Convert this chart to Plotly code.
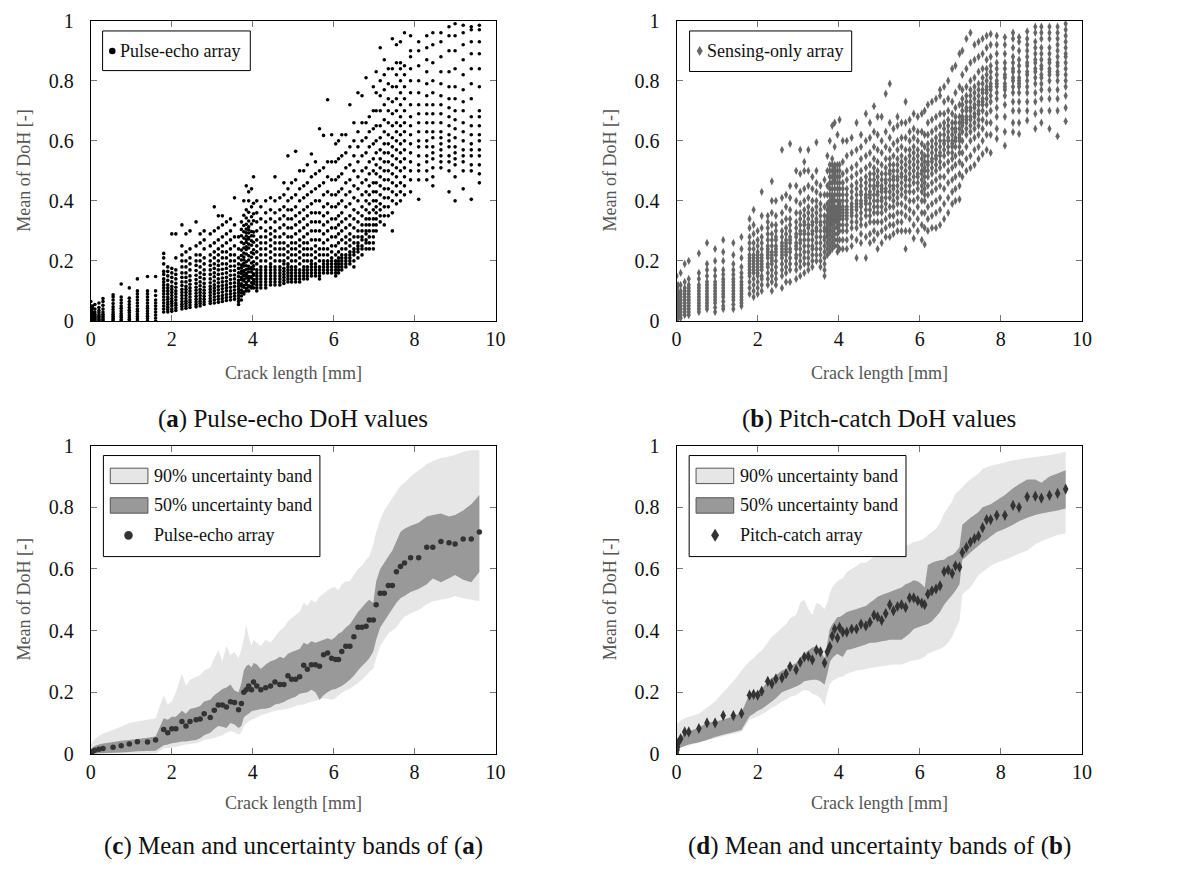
import plotly.graph_objects as go
from plotly.subplots import make_subplots

# crack lengths [mm] shared by all four panels
crack_mm = [
    0.0, 0.01, 0.02, 0.04, 0.1, 0.2, 0.3, 0.55, 0.75, 0.95,
    1.15, 1.4, 1.6, 1.8, 1.9, 2.0, 2.1, 2.25, 2.35, 2.45,
    2.6, 2.7, 2.8, 2.95, 3.05, 3.15, 3.25, 3.35, 3.45, 3.55,
    3.65, 3.72, 3.78, 3.84, 3.9, 3.97, 4.02, 4.1, 4.2, 4.32,
    4.44, 4.55, 4.67, 4.77, 4.87, 4.96, 5.06, 5.16, 5.26, 5.35,
    5.45, 5.55, 5.65, 5.75, 5.85, 5.95, 6.05, 6.12, 6.2, 6.3,
    6.4, 6.5, 6.6, 6.7, 6.8, 6.88, 6.98, 7.05, 7.15, 7.25,
    7.35, 7.45, 7.55, 7.65, 7.75, 7.9, 8.1, 8.3, 8.45, 8.65,
    8.85, 9.0, 9.2, 9.4, 9.6]

# (a) pulse-echo DoH values, one list per crack length
pe_doh = [
    [0, 0.005, 0.01, 0.015, 0.02, 0.03, 0.04, 0.05, 0.065],
    [0, 0.004, 0.008, 0.012, 0.018, 0.025, 0.035, 0.045],
    [0, 0.003, 0.007, 0.012, 0.02, 0.03, 0.04],
    [0, 0.004, 0.009, 0.015, 0.022, 0.03, 0.042, 0.05],
    [0, 0.004, 0.008, 0.012, 0.017, 0.022, 0.03, 0.04, 0.055],
    [0, 0.005, 0.01, 0.015, 0.02, 0.027, 0.035, 0.045, 0.06],
    [0, 0.005, 0.01, 0.016, 0.022, 0.03, 0.04, 0.052, 0.065, 0.075],
    [0, 0.005, 0.01, 0.016, 0.022, 0.03, 0.038, 0.047, 0.058, 0.07, 0.08, 0.087],
    [0, 0.005, 0.012, 0.018, 0.025, 0.033, 0.042, 0.05, 0.06, 0.07, 0.08, 0.123],
    [0, 0.006, 0.013, 0.02, 0.028, 0.036, 0.045, 0.055, 0.065, 0.076, 0.11],
    [0, 0.007, 0.015, 0.023, 0.032, 0.04, 0.05, 0.06, 0.07, 0.08, 0.09, 0.1, 0.14],
    [0, 0.008, 0.016, 0.025, 0.033, 0.042, 0.05, 0.06, 0.07, 0.08, 0.09, 0.1, 0.148],
    [0, 0.01, 0.02, 0.03, 0.04, 0.05, 0.06, 0.07, 0.085, 0.1, 0.148],
    [0.03, 0.04, 0.05, 0.06, 0.07, 0.08, 0.09, 0.1, 0.11, 0.12, 0.13, 0.14, 0.155, 0.165, 0.19, 0.21, 0.225],
    [0.03, 0.038, 0.046, 0.055, 0.063, 0.072, 0.08, 0.09, 0.1, 0.11, 0.12, 0.135, 0.15, 0.165, 0.18],
    [0.032, 0.04, 0.05, 0.058, 0.066, 0.075, 0.085, 0.095, 0.105, 0.115, 0.13, 0.145, 0.16, 0.175, 0.29],
    [0.035, 0.043, 0.052, 0.06, 0.07, 0.08, 0.09, 0.1, 0.112, 0.125, 0.14, 0.155, 0.17, 0.21, 0.29],
    [0.04, 0.048, 0.056, 0.065, 0.075, 0.085, 0.095, 0.105, 0.118, 0.13, 0.145, 0.16, 0.18, 0.2, 0.22, 0.25, 0.32],
    [0.042, 0.05, 0.058, 0.066, 0.075, 0.085, 0.095, 0.105, 0.115, 0.13, 0.145, 0.16, 0.18, 0.2, 0.23, 0.29],
    [0.045, 0.053, 0.062, 0.07, 0.08, 0.09, 0.1, 0.11, 0.122, 0.135, 0.15, 0.17, 0.19, 0.21, 0.24, 0.3],
    [0.047, 0.055, 0.063, 0.072, 0.082, 0.092, 0.102, 0.112, 0.125, 0.138, 0.152, 0.168, 0.185, 0.2, 0.22, 0.25, 0.33],
    [0.05, 0.058, 0.066, 0.075, 0.085, 0.095, 0.105, 0.117, 0.13, 0.145, 0.16, 0.18, 0.2, 0.22, 0.26, 0.29],
    [0.055, 0.063, 0.072, 0.082, 0.092, 0.102, 0.113, 0.125, 0.14, 0.155, 0.17, 0.19, 0.21, 0.24, 0.27, 0.3],
    [0.058, 0.066, 0.075, 0.085, 0.095, 0.105, 0.115, 0.127, 0.14, 0.155, 0.17, 0.185, 0.2, 0.22, 0.25, 0.29],
    [0.06, 0.07, 0.08, 0.09, 0.1, 0.11, 0.12, 0.133, 0.147, 0.16, 0.175, 0.19, 0.21, 0.23, 0.26, 0.3, 0.38],
    [0.062, 0.072, 0.082, 0.093, 0.104, 0.115, 0.127, 0.14, 0.155, 0.17, 0.185, 0.2, 0.22, 0.24, 0.27, 0.31, 0.35],
    [0.065, 0.075, 0.085, 0.096, 0.107, 0.118, 0.13, 0.143, 0.157, 0.172, 0.19, 0.21, 0.23, 0.25, 0.28, 0.32, 0.35],
    [0.068, 0.078, 0.088, 0.1, 0.11, 0.12, 0.132, 0.145, 0.16, 0.175, 0.19, 0.21, 0.23, 0.26, 0.29, 0.33],
    [0.07, 0.08, 0.09, 0.1, 0.112, 0.125, 0.138, 0.152, 0.167, 0.182, 0.2, 0.22, 0.24, 0.27, 0.3, 0.34],
    [0.072, 0.082, 0.092, 0.103, 0.115, 0.127, 0.14, 0.153, 0.168, 0.183, 0.2, 0.22, 0.25, 0.28, 0.32, 0.41],
    [0.055, 0.065, 0.075, 0.085, 0.095, 0.105, 0.115, 0.125, 0.135, 0.148, 0.16, 0.175, 0.19, 0.21, 0.24, 0.28],
    [0.07, 0.083, 0.094, 0.103, 0.116, 0.124, 0.137, 0.145, 0.158, 0.166, 0.177, 0.186, 0.203, 0.218, 0.236, 0.262, 0.284, 0.305, 0.33],
    [0.09, 0.097, 0.112, 0.118, 0.133, 0.139, 0.151, 0.162, 0.168, 0.183, 0.192, 0.204, 0.213, 0.226, 0.243, 0.257, 0.276, 0.297, 0.318, 0.352, 0.4],
    [0.1, 0.108, 0.121, 0.128, 0.143, 0.152, 0.158, 0.171, 0.184, 0.197, 0.223, 0.238, 0.247, 0.262, 0.271, 0.283, 0.294, 0.306, 0.322, 0.343, 0.37, 0.45],
    [0.1, 0.113, 0.117, 0.134, 0.141, 0.148, 0.163, 0.174, 0.182, 0.203, 0.217, 0.243, 0.256, 0.273, 0.278, 0.293, 0.304, 0.314, 0.333, 0.362, 0.4, 0.43],
    [0.11, 0.116, 0.127, 0.143, 0.148, 0.163, 0.172, 0.178, 0.193, 0.212, 0.228, 0.252, 0.267, 0.284, 0.298, 0.323, 0.347, 0.38, 0.44],
    [0.11, 0.123, 0.131, 0.138, 0.152, 0.157, 0.173, 0.184, 0.197, 0.224, 0.237, 0.262, 0.283, 0.296, 0.334, 0.357, 0.392, 0.48],
    [0.1, 0.11, 0.12, 0.13, 0.14, 0.15, 0.16, 0.17, 0.19, 0.21, 0.23, 0.25, 0.27, 0.3, 0.33, 0.36, 0.4],
    [0.11, 0.12, 0.13, 0.14, 0.15, 0.16, 0.17, 0.18, 0.2, 0.22, 0.24, 0.26, 0.28, 0.31, 0.34, 0.38],
    [0.11, 0.12, 0.13, 0.14, 0.15, 0.16, 0.17, 0.18, 0.2, 0.22, 0.24, 0.26, 0.28, 0.3, 0.33, 0.36, 0.4],
    [0.12, 0.13, 0.14, 0.15, 0.16, 0.17, 0.18, 0.19, 0.21, 0.23, 0.25, 0.27, 0.29, 0.31, 0.34, 0.37, 0.41],
    [0.12, 0.13, 0.14, 0.15, 0.16, 0.17, 0.18, 0.2, 0.22, 0.24, 0.26, 0.28, 0.3, 0.33, 0.36, 0.4, 0.48],
    [0.12, 0.13, 0.14, 0.15, 0.16, 0.17, 0.18, 0.2, 0.22, 0.24, 0.26, 0.28, 0.31, 0.34, 0.37, 0.41],
    [0.125, 0.135, 0.145, 0.155, 0.165, 0.175, 0.19, 0.2, 0.22, 0.24, 0.26, 0.29, 0.32, 0.35, 0.38, 0.42, 0.46],
    [0.13, 0.14, 0.15, 0.16, 0.17, 0.18, 0.19, 0.21, 0.23, 0.25, 0.28, 0.31, 0.34, 0.37, 0.4, 0.44, 0.55],
    [0.13, 0.14, 0.15, 0.16, 0.17, 0.18, 0.2, 0.22, 0.24, 0.26, 0.28, 0.31, 0.34, 0.37, 0.41, 0.46],
    [0.13, 0.14, 0.15, 0.16, 0.17, 0.18, 0.2, 0.22, 0.24, 0.26, 0.29, 0.32, 0.35, 0.38, 0.42, 0.47, 0.565],
    [0.13, 0.14, 0.15, 0.16, 0.17, 0.19, 0.21, 0.23, 0.25, 0.27, 0.3, 0.33, 0.36, 0.4, 0.44, 0.5],
    [0.14, 0.15, 0.16, 0.17, 0.18, 0.2, 0.22, 0.24, 0.26, 0.28, 0.31, 0.34, 0.37, 0.41, 0.45, 0.5],
    [0.14, 0.15, 0.16, 0.17, 0.18, 0.2, 0.22, 0.24, 0.26, 0.29, 0.32, 0.35, 0.38, 0.42, 0.46, 0.52],
    [0.15, 0.16, 0.17, 0.18, 0.19, 0.2, 0.22, 0.24, 0.27, 0.3, 0.33, 0.36, 0.39, 0.43, 0.48, 0.556],
    [0.15, 0.16, 0.17, 0.18, 0.19, 0.21, 0.23, 0.25, 0.27, 0.3, 0.33, 0.36, 0.4, 0.44, 0.49, 0.53],
    [0.14, 0.15, 0.16, 0.17, 0.18, 0.2, 0.22, 0.24, 0.27, 0.3, 0.33, 0.36, 0.4, 0.45, 0.5, 0.64],
    [0.16, 0.17, 0.18, 0.19, 0.2, 0.22, 0.24, 0.26, 0.29, 0.32, 0.35, 0.38, 0.42, 0.46, 0.51, 0.618],
    [0.16, 0.17, 0.18, 0.19, 0.2, 0.22, 0.24, 0.27, 0.3, 0.33, 0.36, 0.39, 0.43, 0.48, 0.53, 0.737],
    [0.16, 0.17, 0.18, 0.19, 0.2, 0.21, 0.23, 0.25, 0.28, 0.31, 0.34, 0.38, 0.42, 0.47, 0.53, 0.62],
    [0.15, 0.16, 0.17, 0.18, 0.19, 0.2, 0.22, 0.25, 0.28, 0.31, 0.34, 0.38, 0.42, 0.47, 0.53, 0.59],
    [0.16, 0.17, 0.18, 0.19, 0.2, 0.21, 0.23, 0.26, 0.29, 0.32, 0.35, 0.39, 0.43, 0.48, 0.54, 0.6],
    [0.17, 0.18, 0.19, 0.2, 0.21, 0.22, 0.24, 0.27, 0.3, 0.33, 0.36, 0.4, 0.44, 0.49, 0.55, 0.62],
    [0.18, 0.19, 0.2, 0.21, 0.22, 0.24, 0.26, 0.28, 0.31, 0.34, 0.38, 0.42, 0.46, 0.51, 0.56, 0.62],
    [0.19, 0.2, 0.21, 0.22, 0.23, 0.25, 0.27, 0.29, 0.32, 0.35, 0.39, 0.43, 0.47, 0.52, 0.58, 0.72],
    [0.18, 0.2, 0.22, 0.23, 0.24, 0.26, 0.28, 0.31, 0.34, 0.37, 0.41, 0.45, 0.5, 0.55, 0.6, 0.66],
    [0.21, 0.23, 0.24, 0.25, 0.26, 0.28, 0.3, 0.33, 0.36, 0.4, 0.44, 0.48, 0.53, 0.58, 0.63, 0.76],
    [0.22, 0.24, 0.25, 0.27, 0.28, 0.3, 0.32, 0.35, 0.38, 0.42, 0.46, 0.5, 0.55, 0.6, 0.66, 0.75],
    [0.24, 0.26, 0.27, 0.29, 0.3, 0.32, 0.34, 0.37, 0.4, 0.43, 0.47, 0.51, 0.56, 0.61, 0.66, 0.81],
    [0.24, 0.26, 0.28, 0.3, 0.32, 0.34, 0.36, 0.39, 0.42, 0.45, 0.49, 0.53, 0.58, 0.63, 0.68],
    [0.24, 0.26, 0.28, 0.3, 0.32, 0.34, 0.37, 0.4, 0.43, 0.46, 0.5, 0.54, 0.59, 0.64, 0.7, 0.78],
    [0.3, 0.32, 0.34, 0.36, 0.38, 0.4, 0.43, 0.46, 0.49, 0.52, 0.56, 0.6, 0.65, 0.7, 0.76, 0.83],
    [0.33, 0.35, 0.37, 0.39, 0.42, 0.45, 0.48, 0.51, 0.54, 0.57, 0.61, 0.65, 0.7, 0.75, 0.8, 0.91],
    [0.32, 0.35, 0.38, 0.41, 0.44, 0.47, 0.5, 0.53, 0.56, 0.59, 0.63, 0.67, 0.72, 0.77, 0.82, 0.87],
    [0.35, 0.38, 0.41, 0.44, 0.47, 0.5, 0.53, 0.56, 0.59, 0.62, 0.66, 0.7, 0.74, 0.79, 0.84],
    [0.3, 0.36, 0.4, 0.43, 0.46, 0.49, 0.52, 0.55, 0.58, 0.61, 0.65, 0.69, 0.73, 0.78, 0.84, 0.94],
    [0.39, 0.42, 0.45, 0.48, 0.51, 0.54, 0.57, 0.6, 0.63, 0.66, 0.7, 0.74, 0.78, 0.82, 0.86, 0.92],
    [0.4, 0.43, 0.46, 0.5, 0.53, 0.56, 0.59, 0.62, 0.65, 0.68, 0.72, 0.76, 0.8, 0.84, 0.86, 0.93],
    [0.42, 0.45, 0.48, 0.51, 0.54, 0.57, 0.6, 0.63, 0.66, 0.7, 0.74, 0.78, 0.82, 0.85, 0.96],
    [0.43, 0.47, 0.5, 0.53, 0.56, 0.59, 0.62, 0.65, 0.68, 0.72, 0.76, 0.8, 0.84, 0.88, 0.9, 0.95],
    [0.405, 0.47, 0.5, 0.52, 0.55, 0.58, 0.6, 0.63, 0.66, 0.69, 0.72, 0.76, 0.8, 0.85, 0.9, 0.93],
    [0.47, 0.5, 0.53, 0.55, 0.58, 0.6, 0.63, 0.66, 0.69, 0.72, 0.75, 0.79, 0.83, 0.87, 0.91, 0.95],
    [0.45, 0.48, 0.51, 0.54, 0.56, 0.58, 0.61, 0.63, 0.66, 0.69, 0.72, 0.76, 0.8, 0.86, 0.92, 0.96],
    [0.51, 0.53, 0.55, 0.57, 0.59, 0.61, 0.63, 0.66, 0.69, 0.72, 0.75, 0.79, 0.83, 0.88, 0.93, 0.96],
    [0.43, 0.5, 0.53, 0.55, 0.58, 0.6, 0.62, 0.65, 0.68, 0.71, 0.74, 0.78, 0.83, 0.9, 0.95, 0.98],
    [0.4, 0.48, 0.52, 0.54, 0.56, 0.58, 0.61, 0.64, 0.67, 0.7, 0.74, 0.78, 0.84, 0.9, 0.95, 0.99],
    [0.44, 0.5, 0.53, 0.55, 0.57, 0.6, 0.63, 0.66, 0.7, 0.73, 0.77, 0.82, 0.87, 0.92, 0.96, 0.985],
    [0.405, 0.5, 0.52, 0.55, 0.57, 0.59, 0.62, 0.65, 0.68, 0.74, 0.79, 0.84, 0.89, 0.93, 0.97, 0.98],
    [0.46, 0.49, 0.52, 0.55, 0.57, 0.6, 0.62, 0.65, 0.68, 0.7, 0.78, 0.84, 0.89, 0.93, 0.97, 0.985],
]

# (b) pitch-catch (sensing-only) DoH values, one list per crack length
pc_doh = [
    [0, 0.005, 0.01, 0.02, 0.03, 0.04, 0.05, 0.06, 0.07, 0.08, 0.09, 0.1, 0.12, 0.15],
    [0.005, 0.01, 0.015, 0.02, 0.03, 0.04, 0.05, 0.07, 0.1],
    [0.01, 0.015, 0.02, 0.03, 0.04, 0.05, 0.06, 0.08, 0.11],
    [0.01, 0.02, 0.03, 0.04, 0.05, 0.06, 0.07, 0.09, 0.12],
    [0.01, 0.02, 0.03, 0.04, 0.05, 0.06, 0.07, 0.08, 0.09, 0.1, 0.12, 0.16],
    [0.02, 0.03, 0.04, 0.05, 0.06, 0.07, 0.08, 0.09, 0.1, 0.11, 0.13, 0.19],
    [0.02, 0.03, 0.04, 0.05, 0.06, 0.07, 0.08, 0.09, 0.1, 0.11, 0.12, 0.14, 0.2],
    [0.03, 0.04, 0.05, 0.06, 0.07, 0.08, 0.09, 0.1, 0.11, 0.12, 0.14, 0.16, 0.225],
    [0.04, 0.05, 0.06, 0.07, 0.08, 0.09, 0.1, 0.11, 0.12, 0.13, 0.15, 0.17, 0.19, 0.26],
    [0.03, 0.045, 0.06, 0.07, 0.08, 0.09, 0.1, 0.11, 0.12, 0.13, 0.15, 0.17, 0.2, 0.24],
    [0.04, 0.05, 0.065, 0.08, 0.09, 0.1, 0.11, 0.12, 0.13, 0.14, 0.155, 0.17, 0.2, 0.23, 0.27],
    [0.04, 0.055, 0.07, 0.08, 0.09, 0.1, 0.11, 0.12, 0.13, 0.14, 0.155, 0.17, 0.19, 0.22, 0.26],
    [0.05, 0.06, 0.07, 0.08, 0.09, 0.1, 0.11, 0.12, 0.13, 0.145, 0.16, 0.18, 0.21, 0.24, 0.28],
    [0.09, 0.11, 0.13, 0.15, 0.16, 0.17, 0.18, 0.19, 0.2, 0.21, 0.22, 0.24, 0.26, 0.28, 0.31, 0.34],
    [0.08, 0.1, 0.12, 0.14, 0.16, 0.17, 0.18, 0.19, 0.2, 0.21, 0.22, 0.24, 0.26, 0.29, 0.32, 0.37],
    [0.09, 0.11, 0.13, 0.15, 0.16, 0.17, 0.18, 0.19, 0.2, 0.21, 0.22, 0.23, 0.25, 0.27, 0.3],
    [0.1, 0.12, 0.14, 0.15, 0.17, 0.18, 0.19, 0.2, 0.21, 0.22, 0.24, 0.26, 0.28, 0.31, 0.35, 0.43],
    [0.12, 0.14, 0.16, 0.18, 0.19, 0.21, 0.22, 0.23, 0.24, 0.25, 0.27, 0.29, 0.31, 0.33, 0.35],
    [0.1, 0.13, 0.15, 0.17, 0.19, 0.2, 0.21, 0.22, 0.23, 0.25, 0.27, 0.29, 0.32, 0.36, 0.4, 0.465],
    [0.12, 0.14, 0.16, 0.18, 0.2, 0.22, 0.23, 0.24, 0.25, 0.27, 0.28, 0.3, 0.32, 0.35, 0.4],
    [0.11, 0.15, 0.17, 0.19, 0.21, 0.22, 0.23, 0.24, 0.25, 0.26, 0.28, 0.3, 0.33, 0.36, 0.41, 0.57],
    [0.13, 0.16, 0.18, 0.2, 0.22, 0.23, 0.24, 0.25, 0.26, 0.27, 0.29, 0.31, 0.34, 0.38, 0.42],
    [0.13, 0.17, 0.19, 0.21, 0.23, 0.24, 0.26, 0.27, 0.28, 0.3, 0.32, 0.34, 0.37, 0.41, 0.45, 0.59],
    [0.14, 0.17, 0.19, 0.21, 0.22, 0.24, 0.25, 0.26, 0.28, 0.29, 0.31, 0.33, 0.36, 0.4, 0.45, 0.5],
    [0.15, 0.18, 0.2, 0.22, 0.24, 0.26, 0.27, 0.29, 0.3, 0.32, 0.34, 0.36, 0.39, 0.43, 0.49, 0.57],
    [0.16, 0.19, 0.21, 0.23, 0.25, 0.27, 0.29, 0.3, 0.32, 0.33, 0.35, 0.37, 0.4, 0.44, 0.5, 0.53],
    [0.17, 0.19, 0.21, 0.23, 0.25, 0.27, 0.29, 0.31, 0.32, 0.34, 0.36, 0.38, 0.41, 0.45, 0.5, 0.57],
    [0.18, 0.2, 0.22, 0.24, 0.25, 0.27, 0.29, 0.3, 0.32, 0.33, 0.35, 0.37, 0.4, 0.44, 0.48],
    [0.2, 0.22, 0.24, 0.26, 0.28, 0.3, 0.31, 0.33, 0.34, 0.36, 0.38, 0.4, 0.43, 0.46, 0.5, 0.595],
    [0.18, 0.2, 0.22, 0.24, 0.26, 0.28, 0.3, 0.32, 0.33, 0.35, 0.37, 0.39, 0.42, 0.45],
    [0.15, 0.17, 0.19, 0.21, 0.23, 0.25, 0.27, 0.28, 0.3, 0.31, 0.33, 0.35, 0.38, 0.42, 0.47],
    [0.22, 0.24, 0.26, 0.28, 0.29, 0.3, 0.31, 0.32, 0.33, 0.34, 0.35, 0.37, 0.39, 0.42, 0.45, 0.5, 0.55],
    [0.23, 0.25, 0.27, 0.29, 0.3, 0.31, 0.32, 0.33, 0.34, 0.35, 0.36, 0.37, 0.38, 0.4, 0.42, 0.44, 0.46, 0.48, 0.5, 0.52, 0.6],
    [0.24, 0.26, 0.28, 0.3, 0.32, 0.33, 0.34, 0.35, 0.36, 0.37, 0.38, 0.39, 0.4, 0.41, 0.42, 0.44, 0.46, 0.48, 0.5, 0.52, 0.54, 0.65],
    [0.25, 0.27, 0.29, 0.31, 0.33, 0.34, 0.35, 0.36, 0.37, 0.38, 0.4, 0.42, 0.44, 0.46, 0.47, 0.48, 0.49, 0.5, 0.51, 0.52, 0.58, 0.66],
    [0.23, 0.25, 0.27, 0.29, 0.31, 0.32, 0.33, 0.34, 0.35, 0.36, 0.37, 0.38, 0.4, 0.42, 0.44, 0.46, 0.48, 0.5, 0.52, 0.62],
    [0.24, 0.27, 0.3, 0.32, 0.34, 0.35, 0.36, 0.37, 0.38, 0.39, 0.4, 0.42, 0.44, 0.46, 0.48, 0.5, 0.52, 0.67],
    [0.24, 0.27, 0.3, 0.32, 0.34, 0.35, 0.36, 0.37, 0.38, 0.4, 0.42, 0.44, 0.46, 0.49, 0.53, 0.6],
    [0.24, 0.27, 0.3, 0.32, 0.34, 0.35, 0.36, 0.37, 0.38, 0.4, 0.42, 0.44, 0.47, 0.5, 0.55, 0.6],
    [0.25, 0.28, 0.31, 0.33, 0.35, 0.36, 0.37, 0.38, 0.39, 0.41, 0.43, 0.45, 0.48, 0.51, 0.56, 0.61],
    [0.21, 0.27, 0.31, 0.33, 0.35, 0.37, 0.38, 0.39, 0.4, 0.42, 0.44, 0.46, 0.49, 0.52, 0.57, 0.66],
    [0.26, 0.29, 0.32, 0.34, 0.36, 0.38, 0.39, 0.4, 0.42, 0.43, 0.45, 0.47, 0.5, 0.54, 0.58, 0.62],
    [0.21, 0.28, 0.32, 0.35, 0.37, 0.39, 0.4, 0.41, 0.42, 0.44, 0.46, 0.48, 0.51, 0.55, 0.6, 0.69],
    [0.26, 0.29, 0.33, 0.35, 0.37, 0.39, 0.41, 0.42, 0.43, 0.45, 0.47, 0.49, 0.52, 0.56, 0.61, 0.66],
    [0.27, 0.3, 0.33, 0.36, 0.38, 0.4, 0.42, 0.44, 0.45, 0.47, 0.49, 0.51, 0.54, 0.58, 0.63, 0.715],
    [0.24, 0.29, 0.33, 0.36, 0.38, 0.4, 0.42, 0.43, 0.45, 0.46, 0.48, 0.5, 0.53, 0.57, 0.62, 0.68],
    [0.26, 0.3, 0.33, 0.36, 0.38, 0.4, 0.41, 0.43, 0.44, 0.45, 0.47, 0.49, 0.52, 0.56, 0.6, 0.68],
    [0.28, 0.31, 0.34, 0.37, 0.39, 0.41, 0.43, 0.44, 0.46, 0.47, 0.49, 0.51, 0.54, 0.58, 0.63, 0.757],
    [0.28, 0.32, 0.35, 0.38, 0.41, 0.43, 0.45, 0.47, 0.49, 0.5, 0.52, 0.54, 0.57, 0.61, 0.66, 0.79],
    [0.29, 0.32, 0.35, 0.38, 0.4, 0.42, 0.44, 0.45, 0.47, 0.48, 0.5, 0.52, 0.55, 0.59, 0.64],
    [0.3, 0.33, 0.36, 0.39, 0.41, 0.43, 0.45, 0.47, 0.48, 0.5, 0.52, 0.54, 0.57, 0.6, 0.65, 0.68],
    [0.3, 0.33, 0.36, 0.39, 0.42, 0.44, 0.46, 0.48, 0.49, 0.51, 0.53, 0.55, 0.58, 0.61, 0.66],
    [0.24, 0.3, 0.35, 0.38, 0.41, 0.43, 0.45, 0.47, 0.48, 0.5, 0.52, 0.54, 0.57, 0.61, 0.66, 0.73],
    [0.3, 0.34, 0.37, 0.4, 0.43, 0.45, 0.47, 0.49, 0.51, 0.53, 0.55, 0.57, 0.6, 0.63, 0.67],
    [0.275, 0.32, 0.36, 0.4, 0.43, 0.46, 0.48, 0.5, 0.52, 0.54, 0.56, 0.58, 0.61, 0.64, 0.69],
    [0.3, 0.34, 0.38, 0.41, 0.44, 0.46, 0.48, 0.49, 0.51, 0.53, 0.55, 0.57, 0.6, 0.63, 0.68],
    [0.27, 0.32, 0.36, 0.4, 0.43, 0.45, 0.47, 0.49, 0.5, 0.52, 0.54, 0.56, 0.59, 0.63, 0.69],
    [0.255, 0.31, 0.36, 0.4, 0.42, 0.44, 0.46, 0.48, 0.5, 0.51, 0.53, 0.55, 0.58, 0.62, 0.7],
    [0.3, 0.34, 0.38, 0.42, 0.45, 0.48, 0.5, 0.52, 0.53, 0.55, 0.57, 0.59, 0.62, 0.66, 0.72],
    [0.31, 0.35, 0.39, 0.43, 0.46, 0.49, 0.51, 0.53, 0.54, 0.56, 0.58, 0.6, 0.63, 0.67, 0.73],
    [0.31, 0.36, 0.4, 0.44, 0.47, 0.5, 0.52, 0.54, 0.55, 0.57, 0.59, 0.61, 0.64, 0.68, 0.74],
    [0.32, 0.37, 0.41, 0.45, 0.48, 0.51, 0.53, 0.55, 0.56, 0.58, 0.6, 0.62, 0.65, 0.69, 0.75, 0.77],
    [0.34, 0.39, 0.44, 0.48, 0.52, 0.55, 0.57, 0.59, 0.6, 0.62, 0.64, 0.66, 0.69, 0.73, 0.78],
    [0.36, 0.41, 0.46, 0.5, 0.53, 0.56, 0.58, 0.6, 0.61, 0.63, 0.65, 0.67, 0.7, 0.74, 0.8],
    [0.39, 0.43, 0.47, 0.51, 0.54, 0.56, 0.58, 0.59, 0.6, 0.62, 0.64, 0.66, 0.69, 0.73, 0.84],
    [0.4, 0.44, 0.48, 0.52, 0.55, 0.58, 0.6, 0.61, 0.63, 0.64, 0.66, 0.68, 0.71, 0.76, 0.85],
    [0.405, 0.45, 0.49, 0.53, 0.56, 0.58, 0.6, 0.61, 0.62, 0.64, 0.66, 0.68, 0.72, 0.78, 0.89],
    [0.48, 0.52, 0.56, 0.6, 0.63, 0.65, 0.66, 0.67, 0.68, 0.7, 0.72, 0.74, 0.77, 0.82, 0.9],
    [0.5, 0.54, 0.58, 0.62, 0.64, 0.66, 0.67, 0.68, 0.7, 0.71, 0.73, 0.75, 0.78, 0.84, 0.94],
    [0.51, 0.55, 0.6, 0.63, 0.65, 0.67, 0.68, 0.7, 0.71, 0.73, 0.75, 0.77, 0.8, 0.86, 0.96],
    [0.52, 0.57, 0.61, 0.64, 0.66, 0.68, 0.69, 0.71, 0.72, 0.74, 0.76, 0.78, 0.81, 0.87, 0.92],
    [0.54, 0.58, 0.62, 0.65, 0.67, 0.69, 0.7, 0.72, 0.73, 0.75, 0.77, 0.79, 0.83, 0.88, 0.93],
    [0.556, 0.6, 0.64, 0.67, 0.7, 0.72, 0.73, 0.74, 0.76, 0.77, 0.79, 0.81, 0.84, 0.89, 0.94],
    [0.57, 0.62, 0.66, 0.69, 0.72, 0.74, 0.76, 0.77, 0.78, 0.8, 0.82, 0.84, 0.87, 0.91, 0.95],
    [0.56, 0.62, 0.66, 0.7, 0.73, 0.75, 0.77, 0.78, 0.79, 0.81, 0.83, 0.85, 0.88, 0.92, 0.956],
    [0.607, 0.64, 0.68, 0.71, 0.74, 0.76, 0.78, 0.79, 0.8, 0.82, 0.84, 0.86, 0.89, 0.92, 0.95],
    [0.584, 0.63, 0.68, 0.72, 0.75, 0.77, 0.78, 0.79, 0.81, 0.82, 0.84, 0.86, 0.89, 0.92, 0.945],
    [0.629, 0.66, 0.7, 0.73, 0.76, 0.78, 0.8, 0.81, 0.83, 0.84, 0.86, 0.88, 0.91, 0.94, 0.96],
    [0.623, 0.66, 0.7, 0.73, 0.76, 0.78, 0.79, 0.8, 0.81, 0.83, 0.85, 0.87, 0.9, 0.93, 0.945],
    [0.668, 0.7, 0.73, 0.76, 0.78, 0.8, 0.82, 0.83, 0.85, 0.86, 0.88, 0.9, 0.92, 0.94, 0.964],
    [0.64, 0.69, 0.73, 0.76, 0.79, 0.81, 0.83, 0.84, 0.86, 0.87, 0.89, 0.91, 0.93, 0.96, 0.98],
    [0.66, 0.7, 0.74, 0.77, 0.79, 0.81, 0.82, 0.84, 0.85, 0.87, 0.89, 0.91, 0.94, 0.96, 0.98],
    [0.64, 0.7, 0.74, 0.77, 0.8, 0.82, 0.83, 0.84, 0.86, 0.87, 0.89, 0.91, 0.94, 0.96, 0.98],
    [0.615, 0.7, 0.74, 0.77, 0.8, 0.82, 0.83, 0.85, 0.86, 0.88, 0.9, 0.92, 0.94, 0.96, 0.98],
    [0.665, 0.71, 0.75, 0.78, 0.8, 0.82, 0.84, 0.86, 0.88, 0.89, 0.91, 0.93, 0.95, 0.97, 0.99],
]

# (c) pulse-echo mean and uncertainty bands
pe_mean = [
    0.0, 0.002, 0.004, 0.007, 0.011, 0.015, 0.017, 0.021, 0.026, 0.032,
    0.039, 0.038, 0.045, 0.079, 0.068, 0.081, 0.081, 0.105, 0.09, 0.105,
    0.11, 0.113, 0.13, 0.118, 0.141, 0.158, 0.158, 0.152, 0.169, 0.166,
    0.143, 0.163, 0.2, 0.208, 0.22, 0.208, 0.233, 0.22, 0.208, 0.214,
    0.22, 0.233, 0.225, 0.225, 0.253, 0.242, 0.242, 0.25, 0.287, 0.274,
    0.289, 0.289, 0.284, 0.321, 0.327, 0.31, 0.306, 0.306, 0.332, 0.349,
    0.349, 0.38, 0.411, 0.411, 0.414, 0.434, 0.434, 0.484, 0.521, 0.521,
    0.546, 0.546, 0.591, 0.608, 0.619, 0.636, 0.636, 0.67, 0.67, 0.689,
    0.685, 0.681, 0.697, 0.697, 0.72]
pe_p95 = [
    0.03, 0.032, 0.035, 0.04, 0.048, 0.058, 0.066, 0.078, 0.088, 0.10,
    0.105, 0.11, 0.115, 0.19, 0.16, 0.17, 0.2, 0.26, 0.22, 0.24,
    0.25, 0.255, 0.27, 0.28, 0.31, 0.335, 0.30, 0.35, 0.32, 0.33,
    0.31, 0.34, 0.37, 0.42, 0.38, 0.35, 0.37, 0.36, 0.35, 0.37,
    0.36, 0.38, 0.40, 0.41, 0.43, 0.44, 0.45, 0.46, 0.49, 0.48,
    0.50, 0.49, 0.51, 0.52, 0.53, 0.54, 0.54, 0.53, 0.55, 0.56,
    0.56, 0.58, 0.60, 0.61, 0.63, 0.64, 0.68, 0.72, 0.76, 0.79,
    0.81, 0.83, 0.85, 0.87, 0.88, 0.90, 0.92, 0.94, 0.95, 0.96,
    0.965, 0.97, 0.98, 0.985, 0.985]
pe_p75 = [
    0.004, 0.01, 0.014, 0.02, 0.025, 0.03, 0.033, 0.038, 0.042, 0.045,
    0.048, 0.052, 0.056, 0.115, 0.11, 0.12, 0.12, 0.14, 0.13, 0.145,
    0.15, 0.155, 0.17, 0.175, 0.19, 0.2, 0.21, 0.215, 0.225, 0.205,
    0.2, 0.23, 0.27, 0.285, 0.29, 0.28, 0.295, 0.29, 0.275, 0.29,
    0.30, 0.305, 0.315, 0.31, 0.325, 0.33, 0.335, 0.34, 0.36, 0.355,
    0.365, 0.36, 0.365, 0.37, 0.375, 0.37, 0.38, 0.39, 0.395, 0.41,
    0.42, 0.44, 0.46, 0.475, 0.49, 0.50, 0.49, 0.56, 0.60, 0.62,
    0.64, 0.66, 0.69, 0.72, 0.73, 0.74, 0.75, 0.77, 0.775, 0.78,
    0.77, 0.775, 0.79, 0.81, 0.84]
pe_p25 = [
    0.0, 0.0, 0.0, 0.0, 0.0, 0.001, 0.002, 0.003, 0.004, 0.006,
    0.008, 0.009, 0.01, 0.028, 0.03, 0.034, 0.036, 0.04, 0.04, 0.042,
    0.045, 0.05, 0.06, 0.068, 0.08, 0.09, 0.088, 0.084, 0.1, 0.095,
    0.084, 0.09, 0.118, 0.125, 0.13, 0.138, 0.14, 0.142, 0.145, 0.146,
    0.15, 0.16, 0.163, 0.168, 0.175, 0.18, 0.185, 0.195, 0.197, 0.2,
    0.208, 0.2, 0.175, 0.19, 0.2, 0.208, 0.21, 0.215, 0.22, 0.23,
    0.24, 0.253, 0.27, 0.285, 0.298, 0.31, 0.332, 0.37, 0.41, 0.43,
    0.45, 0.47, 0.49, 0.505, 0.512, 0.525, 0.535, 0.55, 0.569, 0.557,
    0.57, 0.58, 0.565, 0.557, 0.59]
pe_p05 = [
    0.0, 0.0, 0.0, 0.0, 0.0, 0.0, 0.0, 0.0, 0.0, 0.0,
    0.0, 0.0, 0.0, 0.018, 0.018, 0.02, 0.022, 0.028, 0.03, 0.032,
    0.034, 0.038, 0.045, 0.048, 0.052, 0.056, 0.06, 0.068, 0.073, 0.07,
    0.062, 0.07, 0.09, 0.098, 0.105, 0.11, 0.113, 0.118, 0.125, 0.13,
    0.135, 0.14, 0.142, 0.144, 0.146, 0.15, 0.155, 0.158, 0.16, 0.165,
    0.169, 0.172, 0.175, 0.18, 0.178, 0.175, 0.18, 0.19, 0.197, 0.205,
    0.21, 0.22, 0.23, 0.24, 0.253, 0.265, 0.276, 0.31, 0.35, 0.37,
    0.39, 0.40, 0.41, 0.43, 0.445, 0.455, 0.467, 0.485, 0.495, 0.5,
    0.505, 0.512, 0.505, 0.5, 0.495]

# (d) pitch-catch mean and uncertainty bands
pc_mean = [
    0.0, 0.012, 0.022, 0.036, 0.049, 0.071, 0.071, 0.082, 0.10, 0.10,
    0.124, 0.124, 0.131, 0.19, 0.193, 0.19, 0.203, 0.235, 0.227, 0.243,
    0.246, 0.26, 0.283, 0.273, 0.297, 0.314, 0.316, 0.305, 0.337, 0.331,
    0.295, 0.331, 0.348, 0.382, 0.405, 0.376, 0.41, 0.395, 0.395, 0.405,
    0.405, 0.421, 0.415, 0.427, 0.45, 0.444, 0.433, 0.455, 0.484, 0.464,
    0.478, 0.484, 0.475, 0.506, 0.506, 0.497, 0.489, 0.484, 0.518, 0.529,
    0.535, 0.545, 0.591, 0.597, 0.585, 0.61, 0.606, 0.653, 0.67, 0.687,
    0.698, 0.707, 0.734, 0.76, 0.76, 0.774, 0.774, 0.806, 0.80, 0.834,
    0.836, 0.83, 0.839, 0.845, 0.859]
pc_p95 = [
    0.1, 0.1, 0.1, 0.1, 0.108, 0.115, 0.12, 0.13, 0.15, 0.17,
    0.2, 0.235, 0.27, 0.30, 0.31, 0.325, 0.335, 0.36, 0.38, 0.39,
    0.41, 0.42, 0.44, 0.45, 0.49, 0.5, 0.47, 0.45, 0.49, 0.484,
    0.47, 0.49, 0.52, 0.54, 0.55, 0.56, 0.565, 0.57, 0.59, 0.6,
    0.61, 0.62, 0.62, 0.63, 0.64, 0.645, 0.65, 0.65, 0.66, 0.665,
    0.67, 0.67, 0.675, 0.68, 0.687, 0.69, 0.695, 0.70, 0.71, 0.72,
    0.73, 0.75, 0.78, 0.80, 0.82, 0.845, 0.855, 0.865, 0.88, 0.89,
    0.90, 0.91, 0.925, 0.93, 0.935, 0.94, 0.945, 0.953, 0.955, 0.96,
    0.963, 0.966, 0.97, 0.974, 0.98]
pc_p75 = [
    0.03, 0.035, 0.04, 0.045, 0.055, 0.065, 0.072, 0.085, 0.1, 0.105,
    0.11, 0.122, 0.133, 0.195, 0.198, 0.2, 0.21, 0.235, 0.246, 0.255,
    0.27, 0.275, 0.285, 0.295, 0.31, 0.325, 0.335, 0.345, 0.348, 0.337,
    0.308, 0.36, 0.405, 0.42, 0.43, 0.444, 0.444, 0.45, 0.46, 0.465,
    0.47, 0.475, 0.48, 0.49, 0.5, 0.51, 0.515, 0.52, 0.525, 0.53,
    0.535, 0.54, 0.55, 0.555, 0.563, 0.56, 0.55, 0.54, 0.613, 0.62,
    0.625, 0.628, 0.63, 0.64, 0.645, 0.653, 0.67, 0.743, 0.755, 0.766,
    0.775, 0.785, 0.8, 0.805, 0.81, 0.823, 0.84, 0.862, 0.875, 0.89,
    0.89, 0.88, 0.9, 0.91, 0.92]
pc_p25 = [
    0.0, 0.005, 0.01, 0.015, 0.02, 0.025, 0.03, 0.037, 0.045, 0.054,
    0.062, 0.07, 0.077, 0.122, 0.13, 0.14, 0.145, 0.16, 0.17, 0.18,
    0.2, 0.205, 0.21, 0.218, 0.225, 0.235, 0.238, 0.24, 0.24, 0.235,
    0.224, 0.26, 0.297, 0.31, 0.318, 0.325, 0.32, 0.314, 0.337, 0.34,
    0.345, 0.35, 0.355, 0.36, 0.36, 0.362, 0.365, 0.367, 0.37, 0.37,
    0.37, 0.37, 0.38, 0.39, 0.405, 0.41, 0.415, 0.418, 0.421, 0.43,
    0.445, 0.46, 0.484, 0.5, 0.515, 0.529, 0.55, 0.63, 0.64, 0.653,
    0.665, 0.675, 0.687, 0.695, 0.705, 0.72, 0.73, 0.743, 0.755, 0.766,
    0.775, 0.78, 0.785, 0.79, 0.796]
pc_p05 = [
    0.0, 0.005, 0.01, 0.015, 0.02, 0.025, 0.028, 0.035, 0.045, 0.05,
    0.058, 0.065, 0.071, 0.11, 0.115, 0.12, 0.128, 0.14, 0.15, 0.156,
    0.17, 0.175, 0.185, 0.19, 0.2, 0.207, 0.205, 0.195, 0.19, 0.18,
    0.156, 0.2, 0.224, 0.235, 0.24, 0.246, 0.248, 0.25, 0.26, 0.265,
    0.27, 0.272, 0.275, 0.278, 0.28, 0.282, 0.284, 0.286, 0.288, 0.29,
    0.29, 0.29, 0.295, 0.3, 0.303, 0.305, 0.31, 0.315, 0.325, 0.33,
    0.335, 0.34, 0.348, 0.36, 0.38, 0.405, 0.43, 0.517, 0.53, 0.54,
    0.56, 0.58, 0.59, 0.6, 0.61, 0.62, 0.63, 0.64, 0.65, 0.66,
    0.68, 0.69, 0.70, 0.71, 0.715]

x_ticks = [0, 2, 4, 6, 8, 10]
y_ticks = [0, 0.2, 0.4, 0.6, 0.8, 1]
y_tick_text = ["0", "0.2", "0.4", "0.6", "0.8", "1"]

SERIF = "Liberation Serif, Times New Roman, serif"
LIGHT = "#e6e6e6"
DARK = "#999999"

fig = make_subplots(rows=2, cols=2)

# domains (paper fractions)
XL = [0.0735, 0.420]
XR = [0.575, 0.922]
YT = [0.6345, 0.9885]
YB = [0.1241, 0.4874]


def flatten(cols):
    xs, ys = [], []
    for x, vals in zip(crack_mm, cols):
        xs += [x] * len(vals)
        ys += vals
    return xs, ys


# (a) scatter
ax_, ay_ = flatten(pe_doh)
fig.add_trace(go.Scatter(x=ax_, y=ay_, mode="markers", showlegend=False,
                         marker=dict(color="black", size=3.6, symbol="circle")), row=1, col=1)

# (b) scatter
bx_, by_ = flatten(pc_doh)
fig.add_trace(go.Scatter(x=bx_, y=by_, mode="markers", showlegend=False,
                         marker=dict(color="#666666", size=6, symbol="diamond-tall")), row=1, col=2)


def add_bands(row, col, p05, p25, p75, p95, mean, symbol, msize):
    xs = crack_mm + crack_mm[::-1]
    fig.add_trace(go.Scatter(x=xs, y=p95 + p05[::-1], fill="toself", fillcolor=LIGHT,
                             mode="none", showlegend=False, hoverinfo="skip"), row=row, col=col)
    fig.add_trace(go.Scatter(x=xs, y=p75 + p25[::-1], fill="toself", fillcolor=DARK,
                             mode="none", showlegend=False, hoverinfo="skip"), row=row, col=col)
    fig.add_trace(go.Scatter(x=crack_mm, y=mean, mode="markers", showlegend=False,
                             marker=dict(color="#333333", size=msize, symbol=symbol)), row=row, col=col)


add_bands(2, 1, pe_p05, pe_p25, pe_p75, pe_p95, pe_mean, "circle", 5.5)
add_bands(2, 2, pc_p05, pc_p25, pc_p75, pc_p95, pc_mean, "diamond-tall", 8)

axis_common = dict(showline=True, linecolor="black", linewidth=1, mirror="ticks",
                   ticks="inside", ticklen=6, tickcolor="#777777", showgrid=False, zeroline=False,
                   tickfont=dict(family=SERIF, size=20, color="#111111"))

doms = {1: (XL, YT), 2: (XR, YT), 3: (XL, YB), 4: (XR, YB)}
for i in range(1, 5):
    xd, yd = doms[i]
    sfx = "" if i == 1 else str(i)
    fig.update_layout({
        "xaxis" + sfx: dict(domain=xd, range=[0, 10], tickvals=x_ticks, **axis_common),
        "yaxis" + sfx: dict(domain=yd, range=[0, 1], tickvals=y_ticks, ticktext=y_tick_text,
                            ticklabelstandoff=12, **axis_common),
    })

captions = ["(<b>a</b>) Pulse-echo DoH values", "(<b>b</b>) Pitch-catch DoH values",
            "(<b>c</b>) Mean and uncertainty bands of (<b>a</b>)",
            "(<b>d</b>) Mean and uncertainty bands of (<b>b</b>)"]
cap_shift = [-98, -98, -92, -92]
title_shift = [-52, -52, -49, -49]

annotations = []
shapes = []


def dref(i):
    sfx = "" if i == 1 else str(i)
    return "x" + sfx + " domain", "y" + sfx + " domain"


for i in range(1, 5):
    xr, yr = dref(i)
    annotations.append(dict(xref=xr, yref=yr, x=0.5, y=0, yshift=title_shift[i - 1],
                            xanchor="center", yanchor="middle", text="Crack length [mm]",
                            showarrow=False, font=dict(family=SERIF, size=18, color="#555555")))
    annotations.append(dict(xref=xr, yref=yr, x=0, y=0.5, xshift=-67, xanchor="center",
                            yanchor="middle", textangle=-90, text="Mean of DoH [-]",
                            showarrow=False, font=dict(family=SERIF, size=18, color="#555555")))
    annotations.append(dict(xref=xr, yref=yr, x=0.5, y=0, yshift=cap_shift[i - 1],
                            xanchor="center", yanchor="middle", text=captions[i - 1],
                            showarrow=False, font=dict(family=SERIF, size=25, color="#111111")))


def legend_text(i, fx, fy, text):
    xr, yr = dref(i)
    annotations.append(dict(xref=xr, yref=yr, x=fx, y=fy, xanchor="left", yanchor="middle",
                            text=text, showarrow=False,
                            font=dict(family=SERIF, size=18, color="#111111")))


def legend_rect(i, x0, x1, y0, y1, fill, line):
    xr, yr = dref(i)
    shapes.append(dict(type="rect", xref=xr, yref=yr, x0=x0, x1=x1, y0=y0, y1=y1,
                       fillcolor=fill, line=dict(color=line, width=1), layer="above"))


def legend_marker(i, fx, fy, symbol, color, w, h):
    xr, yr = dref(i)
    base = dict(xref=xr, yref=yr, xsizemode="pixel", ysizemode="pixel", xanchor=fx, yanchor=fy,
                fillcolor=color, line=dict(color=color, width=0), layer="above")
    if symbol == "circle":
        shapes.append(dict(type="circle", x0=-w, x1=w, y0=-h, y1=h, **base))
    else:
        shapes.append(dict(type="path", path=f"M0,{-h} L{w},0 L0,{h} L{-w},0 Z", **base))


# legend (a)
legend_rect(1, 0.029, 0.394, 0.834, 0.966, "white", "black")
legend_marker(1, 0.053, 0.899, "circle", "black", 3.3, 3.3)
legend_text(1, 0.068, 0.899, "Pulse-echo array")
# legend (b)
legend_rect(2, 0.032, 0.432, 0.831, 0.966, "white", "black")
legend_marker(2, 0.057, 0.899, "diamond", "#666666", 3, 5)
legend_text(2, 0.071, 0.899, "Sensing-only array")
# legends (c) and (d)
for i, mname, sym, mx in [(3, "Pulse-echo array", "circle", 0.093),
                          (4, "Pitch-catch array", "diamond", 0.095)]:
    legend_rect(i, 0.031, 0.566, 0.640, 0.968, "white", "black")
    legend_rect(i, 0.048, 0.141, 0.877, 0.927, LIGHT, "#555555")
    legend_rect(i, 0.048, 0.141, 0.781, 0.831, DARK, "#555555")
    if sym == "circle":
        legend_marker(i, mx, 0.709, "circle", "#333333", 4.3, 4.3)
    else:
        legend_marker(i, mx, 0.709, "diamond", "#333333", 4, 6.5)
    legend_text(i, 0.151, 0.903, "90% uncertainty band")
    legend_text(i, 0.151, 0.807, "50% uncertainty band")
    legend_text(i, 0.151, 0.709, mname)

fig.update_layout(
    width=1183, height=870,
    margin=dict(l=0, r=0, t=0, b=0),
    plot_bgcolor="white", paper_bgcolor="white",
    showlegend=False,
    annotations=annotations,
    shapes=shapes,
)

fig.write_html("out.html", config={"displayModeBar": False},
               post_script="document.body.style.margin='0';")
